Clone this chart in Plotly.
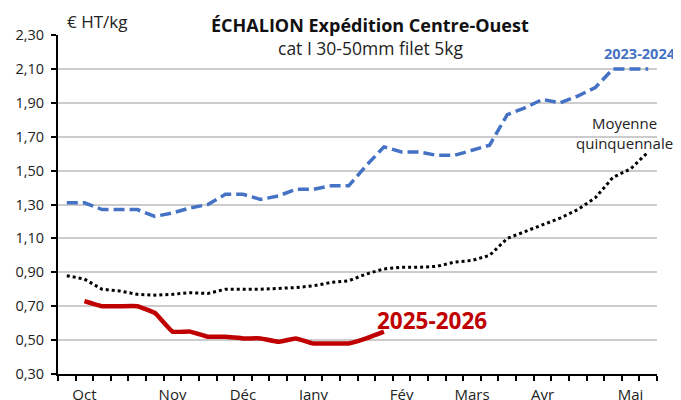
import plotly.graph_objects as go

weeks = list(range(34))
month_pos = [1, 6, 10, 14, 19, 23, 27, 32]
month_labels = ["Oct", "Nov", "Déc", "Janv", "Fév", "Mars", "Avr", "Mai"]

s2023 = [1.31, 1.31, 1.27, 1.27, 1.27, 1.23, 1.25, 1.28, 1.30, 1.36, 1.36, 1.33,
         1.35, 1.39, 1.39, 1.41, 1.41, 1.53, 1.64, 1.61, 1.61, 1.59, 1.59, 1.62,
         1.65, 1.83, 1.87, 1.92, 1.90, 1.94, 1.99, 2.10, 2.10, 2.10]
moyenne = [0.88, 0.86, 0.80, 0.79, 0.77, 0.765, 0.77, 0.78, 0.775, 0.80, 0.80, 0.80,
           0.805, 0.81, 0.82, 0.84, 0.85, 0.89, 0.92, 0.93, 0.93, 0.935, 0.96, 0.97,
           1.00, 1.10, 1.14, 1.18, 1.22, 1.27, 1.34, 1.46, 1.51, 1.61]
s2025 = [None, 0.73, 0.70, 0.70, 0.70, 0.66, 0.55, 0.55, 0.52, 0.52, 0.51, 0.51,
         0.49, 0.51, 0.48, 0.48, 0.48, 0.51, 0.55]

y_ticks = [0.30, 0.50, 0.70, 0.90, 1.10, 1.30, 1.50, 1.70, 1.90, 2.10, 2.30]
y_labels = [f"{v:.2f}".replace(".", ",") for v in y_ticks]

FONT = "Open Sans"
BLUE = "#4472C4"
RED = "#C00000"
TXT = "#222222"

fig = go.Figure()
fig.add_trace(go.Scatter(x=weeks, y=moyenne, mode="lines",
                         line=dict(color="black", width=3, dash="3px,3px"),
                         name="Moyenne quinquennale"))
fig.add_trace(go.Scatter(x=weeks, y=s2023, mode="lines",
                         line=dict(color=BLUE, width=3.5, dash="11px,5px"),
                         name="2023-2024"))
fig.add_trace(go.Scatter(x=weeks[:len(s2025)], y=s2025, mode="lines",
                         line=dict(color=RED, width=4.5, shape="spline", smoothing=0.3),
                         name="2025-2026"))

# page body has an 8px margin: figure is 673x392 placed at (8, 8)
fig.update_layout(
    width=673, height=392,
    margin=dict(l=50, r=24, t=27, b=26),
    plot_bgcolor="white", paper_bgcolor="white",
    showlegend=False,
    font=dict(family=FONT, color=TXT, size=14),
    xaxis=dict(
        range=[-0.5, 33.5], automargin=False,
        tickvals=month_pos, ticktext=month_labels,
        ticks="", showgrid=False, zeroline=False,
        showline=True, linecolor="black", linewidth=2,
        tickfont=dict(family=FONT, size=15, color=TXT),
        ticklabelstandoff=6,
        minor=dict(tick0=-0.5, dtick=1, ticks="outside", ticklen=5,
                   tickwidth=1.5, tickcolor="black", showgrid=False),
    ),
    yaxis=dict(
        range=[0.30, 2.30], automargin=False,
        tickvals=y_ticks, ticktext=y_labels,
        ticks="outside", ticklen=5, tickwidth=1.5, tickcolor="black",
        showgrid=True, gridcolor="#cccccc", gridwidth=1.5,
        zeroline=False,
        showline=True, linecolor="black", linewidth=2,
        tickfont=dict(family=FONT, size=14.5, color=TXT),
        ticklabelstandoff=4,
    ),
)

ann = [
    dict(text="€ HT/kg", x=0.0117, y=1.041, xanchor="left", yanchor="middle",
         font=dict(size=17, color=TXT)),
    dict(text="<b>ÉCHALION Expédition Centre-Ouest</b>", x=0.521, y=1.029,
         xanchor="center", yanchor="middle", font=dict(size=18, color="#111111")),
    dict(text="cat I 30-50mm filet 5kg", x=0.521, y=0.962,
         xanchor="center", yanchor="middle", font=dict(size=17.5, color=TXT)),
    dict(text="<b>2023-2024</b>", x=0.971, y=0.944, xanchor="center", yanchor="middle",
         font=dict(size=14.5, color=BLUE)),
    dict(text="Moyenne<br>quinquennale", x=0.946, y=0.712, xanchor="center",
         yanchor="middle", align="center", font=dict(size=15, color=TXT)),
    dict(text="<b>2025-2026</b>", x=0.625, y=0.159, xanchor="center", yanchor="middle",
         font=dict(size=22.5, color=RED)),
]
for a in ann:
    a.update(xref="paper", yref="paper", showarrow=False)
    fig.add_annotation(**a)

fig.write_html("out.html")
